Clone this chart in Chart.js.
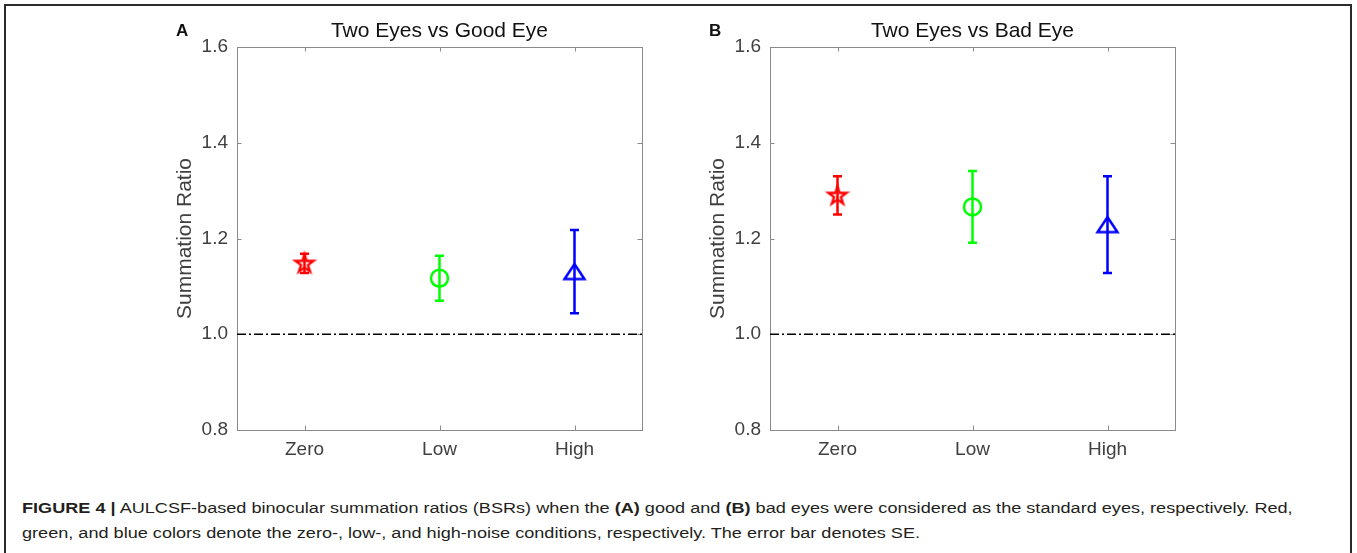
<!DOCTYPE html>
<html><head><meta charset="utf-8">
<script src="https://cdn.jsdelivr.net/npm/chart.js@4"></script>
<style>
html,body{margin:0;padding:0;background:#fff;}
body{width:1357px;height:553px;position:relative;overflow:hidden;font-family:"Liberation Sans",Arial,sans-serif;}
#frame{position:absolute;left:4px;top:4px;width:1344px;height:600px;border:2px solid #2b2b2b;}
.panel{position:absolute;top:0;}
#cA{left:0}
#cB{left:533px}
#caption{position:absolute;left:22px;top:496px;font-size:15.5px;line-height:24.5px;color:#231f20;white-space:nowrap;transform:scaleX(1.168);transform-origin:0 0;}
</style>
</head><body>
<div id="frame"></div>
<canvas id="cA" class="panel" width="680" height="470"></canvas>
<canvas id="cB" class="panel" width="680" height="470"></canvas>
<div id="caption"><b>FIGURE 4 |</b> AULCSF-based binocular summation ratios (BSRs) when the <b>(A)</b> good and <b>(B)</b> bad eyes were considered as the standard eyes, respectively. Red,<br>green, and blue colors denote the zero-, low-, and high-noise conditions, respectively. The error bar denotes SE.</div>
<script>
// ---- data ----
const categories = ['Zero', 'Low', 'High'];
const xPositions = [1, 2, 3];
const goodEyeMean = [1.148, 1.117, 1.131];
const goodEyeSE   = [0.020, 0.047, 0.087];
const badEyeMean  = [1.290, 1.266, 1.229];
const badEyeSE    = [0.040, 0.075, 0.101];
const yTicks = [0.8, 1.0, 1.2, 1.4, 1.6];
const referenceValue = 1.0;
const panelTitles = ['Two Eyes vs Good Eye', 'Two Eyes vs Bad Eye'];
const panelLetters = ['A', 'B'];
const conditionColors = ['#ff0000', '#00ff00', '#0000ff'];

const FONT = '"Liberation Sans", Arial, sans-serif';
const TICK_COLOR = '#404040';
const AXIS_COLOR = '#8a8a8a';

function makeStar(color, R, lw) {
  const size = Math.ceil(2 * R + lw * 2 + 2);
  const c = document.createElement('canvas'); c.width = c.height = size;
  const g = c.getContext('2d');
  const cx = size / 2, cy = size / 2 + 0.5, r = R * 0.382;
  g.beginPath();
  for (let k = 0; k < 10; k++) {
    const a = -Math.PI / 2 + k * Math.PI / 5, rr = k % 2 ? r : R;
    g.lineTo(cx + rr * Math.cos(a), cy + rr * Math.sin(a));
  }
  g.closePath(); g.strokeStyle = color; g.lineWidth = lw; g.lineJoin = 'miter'; g.stroke();
  return c;
}
function makeTriangle(color, w, h, lw) {
  const W = Math.ceil(w + lw * 2 + 2), H = Math.ceil(h + lw * 2 + 2);
  const c = document.createElement('canvas'); c.width = W; c.height = H;
  const g = c.getContext('2d');
  const cx = W / 2, cy = H / 2;
  g.beginPath();
  g.moveTo(cx, cy - h / 2); g.lineTo(cx + w / 2, cy + h / 2); g.lineTo(cx - w / 2, cy + h / 2);
  g.closePath(); g.strokeStyle = color; g.lineWidth = lw; g.lineJoin = 'miter'; g.stroke();
  return c;
}

const axesBoxPlugin = {
  id: 'axesBox',
  beforeDatasetsDraw(chart) {
    const { ctx, chartArea: a, scales: { x, y } } = chart;
    ctx.save();
    ctx.strokeStyle = AXIS_COLOR; ctx.lineWidth = 1;
    ctx.strokeRect(Math.round(a.left) + 0.5, Math.round(a.top) + 0.5, Math.round(a.right - a.left), Math.round(a.bottom - a.top));
    const tl = 4.5;
    ctx.beginPath();
    xPositions.forEach(v => {
      const px = Math.round(x.getPixelForValue(v)) + 0.5;
      ctx.moveTo(px, a.bottom); ctx.lineTo(px, a.bottom - tl);
      ctx.moveTo(px, a.top); ctx.lineTo(px, a.top + tl);
    });
    yTicks.forEach(v => {
      const py = Math.round(y.getPixelForValue(v)) + 0.5;
      ctx.moveTo(a.left, py); ctx.lineTo(a.left + tl, py);
      ctx.moveTo(a.right, py); ctx.lineTo(a.right - tl, py);
    });
    ctx.stroke();
    ctx.restore();
  }
};

const errorBarPlugin = {
  id: 'errorBars',
  afterDatasetsDraw(chart, args, opts) {
    const { ctx, scales: { x, y } } = chart;
    ctx.save();
    ctx.lineWidth = 2.5;
    opts.means.forEach((m, i) => {
      const px = x.getPixelForValue(xPositions[i]);
      const t = y.getPixelForValue(m + opts.se[i]), b = y.getPixelForValue(m - opts.se[i]);
      ctx.strokeStyle = conditionColors[i];
      ctx.beginPath();
      ctx.moveTo(px, t); ctx.lineTo(px, b);
      ctx.moveTo(px - 4.5, t); ctx.lineTo(px + 4.5, t);
      ctx.moveTo(px - 4.5, b); ctx.lineTo(px + 4.5, b);
      ctx.stroke();
    });
    ctx.restore();
  }
};

const headingPlugin = {
  id: 'heading',
  afterDraw(chart, args, opts) {
    const { ctx, chartArea: a } = chart;
    ctx.save();
    ctx.fillStyle = '#111';
    ctx.textBaseline = 'middle';
    ctx.textAlign = 'center';
    ctx.font = '21px ' + FONT;
    ctx.fillText(opts.title, (a.left + a.right) / 2, 31);
    ctx.font = 'bold 17px ' + FONT;
    ctx.textAlign = 'left';
    ctx.fillText(opts.letter, a.left - 61, 31);
    ctx.restore();
  }
};

function makeChart(id, means, se, idx) {
  const markerStyles = [makeStar(conditionColors[0], 9.5, 2.4), 'circle', makeTriangle(conditionColors[2], 20, 15, 2.5)];
  return new Chart(document.getElementById(id), {
    type: 'scatter',
    data: {
      datasets: [
        {
          type: 'line',
          data: [{ x: 0.5, y: referenceValue }, { x: 3.5, y: referenceValue }],
          borderColor: '#000', borderWidth: 1.4, borderDash: [9, 3, 2, 3],
          pointRadius: 0, fill: false
        },
        {
          data: xPositions.map((xv, i) => ({ x: xv, y: means[i] })),
          pointStyle: markerStyles,
          pointRadius: [10, 8.5, 12],
          pointBorderWidth: 2.5,
          pointBorderColor: conditionColors,
          pointBackgroundColor: 'rgba(0,0,0,0)',
          showLine: false
        }
      ]
    },
    options: {
      responsive: false,
      animation: false,
      layout: { padding: { left: 173, top: 47, right: 38, bottom: 0 } },
      plugins: {
        legend: { display: false },
        tooltip: { enabled: false },
        errorBars: { means: means, se: se },
        heading: { title: panelTitles[idx], letter: panelLetters[idx] }
      },
      scales: {
        x: {
          type: 'linear', min: 0.5, max: 3.5,
          afterBuildTicks: s => { s.ticks = xPositions.map(v => ({ value: v })); },
          ticks: {
            callback: (v, i) => categories[xPositions.indexOf(v)],
            font: { size: 19, family: FONT }, color: TICK_COLOR, padding: 8,
            maxRotation: 0, autoSkip: false
          },
          grid: { display: false, drawTicks: false },
          border: { display: false },
          afterFit: s => { s.height = 40; }
        },
        y: {
          min: 0.8, max: 1.6,
          afterBuildTicks: s => { s.ticks = yTicks.map(v => ({ value: v })); },
          ticks: {
            callback: v => v.toFixed(1),
            font: { size: 19, family: FONT }, color: TICK_COLOR, padding: 9
          },
          grid: { display: false, drawTicks: false },
          border: { display: false },
          title: { display: true, text: 'Summation Ratio', font: { size: 21, family: FONT }, color: TICK_COLOR, padding: 0 },
          afterFit: s => { s.width = 64; }
        }
      }
    },
    plugins: [axesBoxPlugin, errorBarPlugin, headingPlugin]
  });
}

makeChart('cA', goodEyeMean, goodEyeSE, 0);
makeChart('cB', badEyeMean, badEyeSE, 1);
</script>
</body></html>
